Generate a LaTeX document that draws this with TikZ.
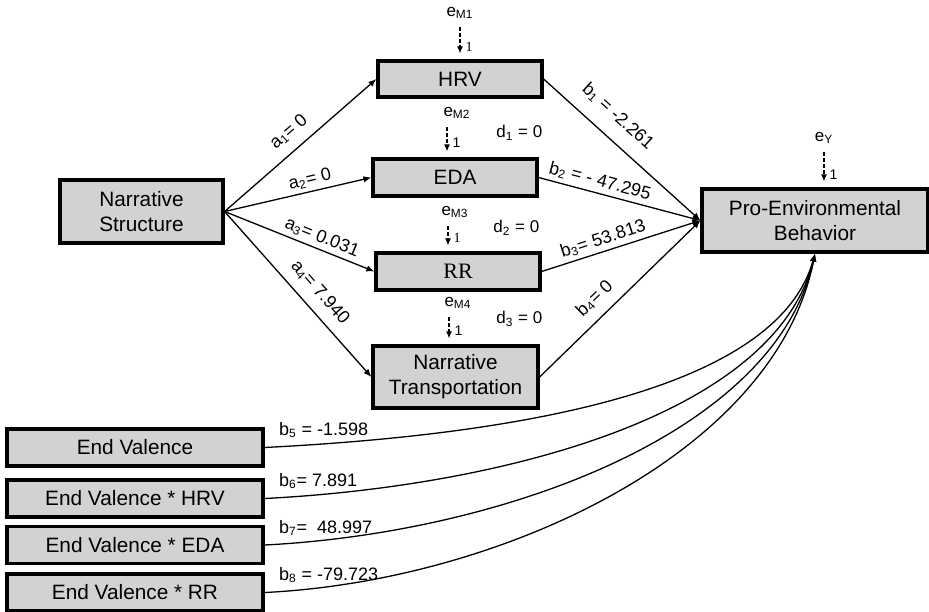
\documentclass[tikz,border=0pt]{standalone}
\usepackage{fontspec}
\setmainfont{Liberation Sans}
\newfontfamily\serifrm{Liberation Serif}
\usetikzlibrary{arrows.meta,calc}

\begin{document}
\begin{tikzpicture}[x=0.5pt,y=-0.5pt,
  box/.style={draw,line width=1.6pt,fill=gray!35,inner sep=0pt,align=center,
    font=\fontsize{10.4}{12.6}\selectfont},
  link/.style={line width=0.65pt,-{Latex[length=4pt,width=3.2pt]}},
  err/.style={line width=0.6pt,dash pattern=on 2pt off 1pt,
    -{Latex[length=3.5pt,width=3pt]},shorten <=4pt,shorten >=3pt},
  coef/.style={font=\fontsize{9}{10}\selectfont,sloped,above,inner sep=2pt},
  elab/.style={font=\fontsize{8.5}{9}\selectfont,inner sep=0pt},
  one/.style={font=\fontsize{7}{8}\selectfont,right,inner sep=2.5pt},
  dlab/.style={font=\fontsize{8.5}{9}\selectfont,anchor=west,inner sep=0pt}]
\useasboundingbox (0,0) rectangle (929,611);

\node[box,minimum width=81.5pt,minimum height=31.5pt] (ns) at (141.5,211.5) {Narrative\\Structure};
\node[box,minimum width=82pt,minimum height=18pt] (hrv) at (460,79) {HRV};
\node[box,minimum width=82pt,minimum height=18.5pt] (eda) at (455,177.5) {EDA};
\node[box,minimum width=82pt,minimum height=18.5pt,font=\serifrm\fontsize{11}{13}\selectfont] (rr) at (458,271.5) {RR};
\node[box,minimum width=82.5pt,minimum height=31pt] (nt) at (455.5,377) {Narrative\\Transportation};
\node[box,minimum width=113pt,minimum height=31.5pt] (peb) at (815,220.5) {Pro-Environmental\\Behavior};

% error terms
\node[elab] (em1) at (460,13) {e\textsubscript{M1}};
\node[elab] (em2) at (457,113) {e\textsubscript{M2}};
\node[elab] (em3) at (455,212) {e\textsubscript{M3}};
\node[elab] (em4) at (458,303) {e\textsubscript{M4}};
\node[elab] (ey) at (824,138) {e\textsubscript{Y}};
\draw[err] (em1.south) -- (em1.south |- hrv.north) node[one,pos=0.7,font=\serifrm\fontsize{7}{8}\selectfont] {1};
\draw[err] ([xshift=-5pt]em2.south) -- ([xshift=-5pt]em2.south |- eda.north) node[one,pos=0.6] {1};
\draw[err] ([xshift=-3.5pt]em3.south) -- ([xshift=-3.5pt]em3.south |- rr.north) node[one,pos=0.6,font=\serifrm\fontsize{7}{8}\selectfont] {1};
\draw[err] ([xshift=-4.5pt]em4.south) -- ([xshift=-4.5pt]em4.south |- nt.north) node[one,pos=0.6] {1};
\draw[err] (ey.south) -- (ey.south |- peb.north) node[one,pos=0.7] {1};

\node[dlab] (d1) at (496,133) {d\textsubscript{1} = 0};
\node[dlab] (d2) at (493,228) {d\textsubscript{2} = 0};
\node[dlab] (d3) at (496,319) {d\textsubscript{3} = 0};

% a paths
\draw[link] (ns.east) -- (hrv.west) node[coef,pos=0.5,above=3pt] {a\textsubscript{1}= 0};
\draw[link] (ns.east) -- (eda.west) node[coef,pos=0.6] {a\textsubscript{2}= 0};
\draw[link] (ns.east) -- (rr.west) node[coef,pos=0.62] {a\textsubscript{3}= 0.031};
\draw[link] (ns.east) -- (nt.west) node[coef,pos=0.56,above=3pt] {a\textsubscript{4}= 7.940};

% b paths
\draw[link] (hrv.east) -- (peb.west) node[coef,pos=0.38,above=5pt] {b\textsubscript{1} = -2.261};
\draw[link] (eda.east) -- (peb.west) node[coef,pos=0.36] {b\textsubscript{2} = - 47.295};
\draw[link] (rr.east) -- (peb.west) node[coef,pos=0.41] {b\textsubscript{3}= 53.813};
\draw[link] (nt.east) -- (peb.west) node[coef,pos=0.42,above=3pt] {b\textsubscript{4}= 0};

% moderators
\foreach \i/\y/\txt/\val/\ya/\yb in {
  1/447.5/End Valence/{b\textsubscript{5} = -1.598}/435.5/395.2,
  2/498.5/End Valence * HRV/{b\textsubscript{6}= 7.891}/486.5/415.6,
  3/545/End Valence * EDA/{b\textsubscript{7}=\ \ 48.997}/533/434.2,
  4/592.5/End Valence * RR/{b\textsubscript{8} = -79.723}/581/453.4}{
  \node[box,minimum width=128pt,minimum height=18.5pt] (ev\i) at (135,\y) {\txt};
  \node[font=\fontsize{9}{10}\selectfont,anchor=base west,inner sep=0pt] (bl\i)
    at ([xshift=7pt,yshift=6pt]ev\i.east) {\val};
  \draw[link] (ev\i.east) .. controls (500,\ya) and (775,\yb) .. (peb.south);
}
\end{tikzpicture}
\end{document}
